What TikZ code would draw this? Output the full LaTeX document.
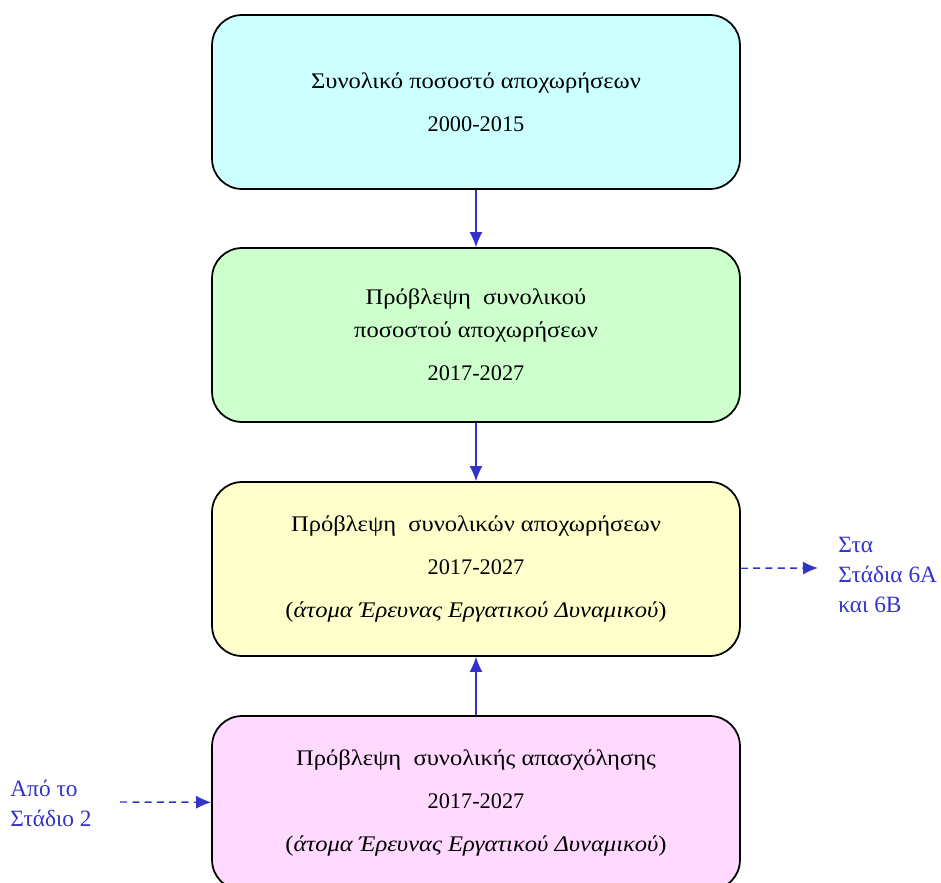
\documentclass[tikz,border=0pt]{standalone}
\usepackage{fontspec}
\setmainfont{Liberation Serif}
\newfontfamily\boxfont[FakeStretch=1.1]{Liberation Serif}
\newfontfamily\numfont{Liberation Serif}
\newcommand{\yr}[1]{{\numfont #1}}
\usepackage{xcolor}
\definecolor{lcyan}{RGB}{204,255,255}
\definecolor{lgreen}{RGB}{204,255,204}
\definecolor{lyellow}{RGB}{255,255,204}
\definecolor{lpink}{RGB}{255,217,255}
\definecolor{fblue}{RGB}{51,51,204}
\usetikzlibrary{arrows.meta,positioning}

\begin{document}
\begin{tikzpicture}[
  x=0.02cm,y=-0.02cm,
  sbox/.style={rectangle,draw,line width=1pt,rounded corners=0.6cm,minimum width=10.56cm,minimum height=3.48cm,align=center,font=\boxfont\fontsize{12.7}{24.5}\selectfont},
  arrow/.style={-{Latex[length=0.3cm,width=0.26cm]},line width=0.8pt,fblue},
  dasharrow/.style={arrow,dash pattern=on 4pt off 3pt},
  note/.style={align=left,text=fblue,font=\fontsize{13.3}{17}\selectfont,inner sep=0pt}
]
  \useasboundingbox (0,0) rectangle (941,883);

  % Stage boxes
  \node[sbox,fill=lcyan] (total) at (476,102) {Συνολικό ποσοστό αποχωρήσεων\\\yr{2000-2015}};
  \node[sbox,fill=lgreen] (rate) at (476,335) {Πρόβλεψη\ \ συνολικού\\[-6pt]ποσοστού αποχωρήσεων\\\yr{2017-2027}};
  \node[sbox,fill=lyellow] (exits) at (476,569) {Πρόβλεψη\ \ συνολικών αποχωρήσεων\\\yr{2017-2027}\\(\textit{άτομα Έρευνας Εργατικού Δυναμικού})};
  \node[sbox,fill=lpink] (empl) at (476,803) {Πρόβλεψη\ \ συνολικής απασχόλησης\\\yr{2017-2027}\\(\textit{άτομα Έρευνας Εργατικού Δυναμικού})};

  % Links to other stages
  \node[note,anchor=west] (to6) at (838,575) {Στα\\Στάδια 6Α\\και 6Β};
  \node[note,anchor=west] (from2) at (10,803) {Από το\\Στάδιο 2};
  \coordinate (out6) at (818,568);
  \coordinate (in2) at (120,802);

  % Arrows
  \draw[arrow] (total) -- (rate);
  \draw[arrow] (rate) -- (exits);
  \draw[arrow] (empl) -- (exits);
  \draw[dasharrow] (exits) -- (out6);
  \draw[dasharrow] (in2) -- (empl);
\end{tikzpicture}
\end{document}
